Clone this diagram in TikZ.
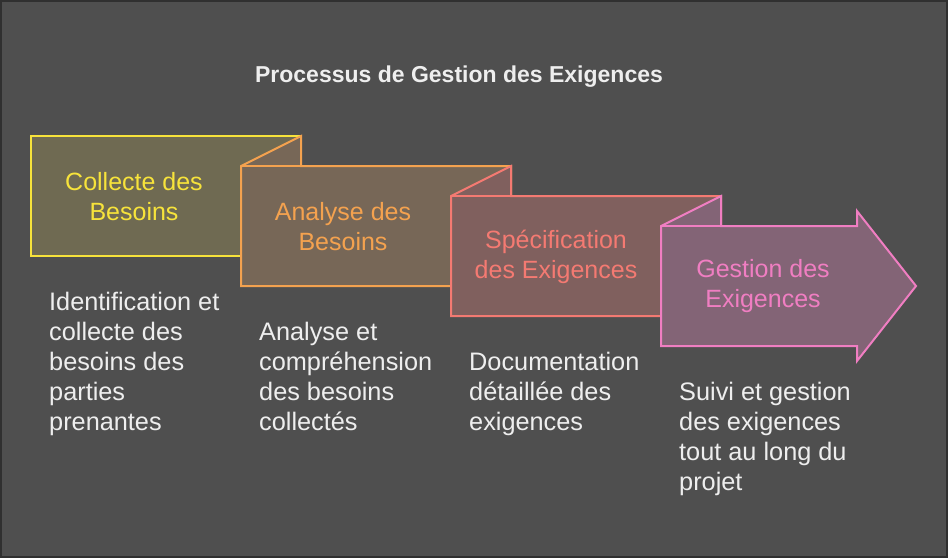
\documentclass[tikz,border=0pt]{standalone}
\usepackage{fontspec}
\setmainfont{Liberation Sans}
\definecolor{bg}{HTML}{4F4F4F}
\definecolor{frame}{HTML}{303030}
\definecolor{yel}{HTML}{F7E33B}
\definecolor{yelfill}{HTML}{6F6A52}
\definecolor{ora}{HTML}{F4A24F}
\definecolor{orafill}{HTML}{776757}
\definecolor{sal}{HTML}{F47A72}
\definecolor{salfill}{HTML}{80605E}
\definecolor{pnk}{HTML}{F07EC2}
\definecolor{pnkfill}{HTML}{836476}
\definecolor{txt}{HTML}{EEEEEE}
\begin{document}
\begin{tikzpicture}[x=1pt,y=-1pt,
  stepshape/.style={line width=2pt, line join=miter},
  lbl/.style={inner sep=0pt, align=center, font=\fontsize{25}{30}\selectfont},
  desc/.style={inner sep=0pt, align=left, anchor=north west, text=txt, font=\fontsize{25.3}{30}\selectfont}]
\useasboundingbox (0,0) rectangle (948,558);
\fill[bg] (0,0) rectangle (948,558);
\draw[frame, line width=2pt] (1,1) rectangle (947,557);

\node[inner sep=0pt, text=txt, font=\bfseries\fontsize{23}{28}\selectfont] (title) at (459,77) {Processus de Gestion des Exigences};

% box 1
\draw[stepshape, draw=yel, fill=yelfill] (31,136) rectangle (301,256);
% box 2
\draw[stepshape, draw=ora, fill=orafill] (241,166) -- (301,136) -- (301,166) -- (511,166) -- (511,286) -- (241,286) -- cycle;
\draw[stepshape, draw=ora] (241,166) -- (301,166);
% box 3
\draw[stepshape, draw=sal, fill=salfill] (451,196) -- (511,166) -- (511,196) -- (721,196) -- (721,316) -- (451,316) -- cycle;
\draw[stepshape, draw=sal] (451,196) -- (511,196);
% box 4 arrow
\draw[stepshape, draw=pnk, fill=pnkfill] (661,226) -- (721,196) -- (721,226) -- (857,226) -- (857,211) -- (916,286) -- (857,361) -- (857,346) -- (661,346) -- cycle;
\draw[stepshape, draw=pnk] (661,226) -- (721,226);

\node[lbl, text=yel] (l1) at (134,197) {Collecte des\\Besoins};
\node[lbl, text=ora] (l2) at (343,227) {Analyse des\\Besoins};
\node[lbl, text=sal] (l3) at (556,257) {Spécification\\des Exigences};
\node[lbl, text=pnk] (l4) at (763,286) {Gestion des\\Exigences};

\node[desc] (d1) at (49,289) {\strut Identification et\\collecte des\\besoins des\\parties\\prenantes};
\node[desc] (d2) at (259,319) {\strut Analyse et\\compréhension\\des besoins\\collectés};
\node[desc] (d3) at (469,349) {\strut Documentation\\détaillée des\\exigences};
\node[desc] (d4) at (679,379) {\strut Suivi et gestion\\des exigences\\tout au long du\\projet};
\end{tikzpicture}
\end{document}
